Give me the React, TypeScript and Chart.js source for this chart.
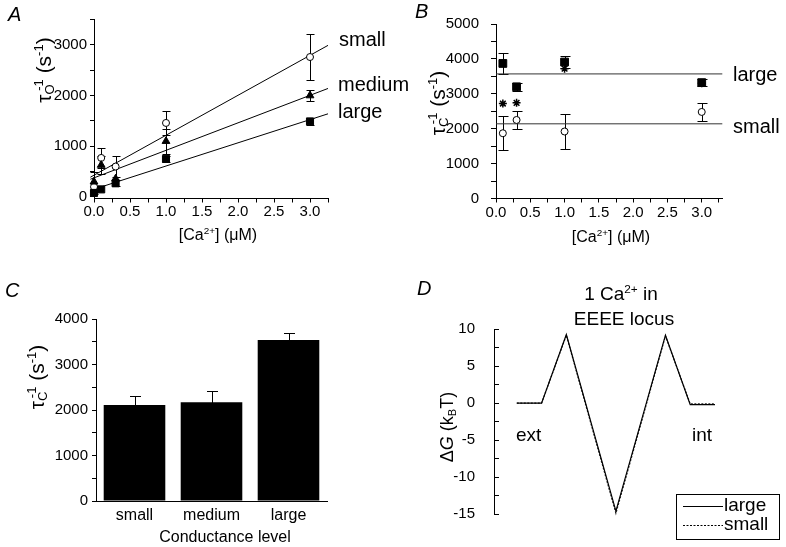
import React, { useEffect, useRef } from 'react';
import { Chart, registerables } from 'chart.js';
Chart.register(...registerables);

const FONT = '"Liberation Sans", Arial, Helvetica, sans-serif';

// ---------- Panel A data ----------
const caA = [0, 0.1, 0.3, 1.0, 3.0];
const smallA = [200, 770, 600, 1460, 2760];
const smallAErr = [0, 190, 200, 230, 460];
const mediumA = [300, 630, 360, 1100, 2000];
const mediumAErr = [200, 170, 0, 250, 100];
const largeA = [80, 150, 270, 750, 1490];
const largeAErr = [30, 0, 60, 60, 70];
const fitXA = [-0.05, 3.25];
const fitSmallA = [390, 2990];
const fitMediumA = [350, 2140];
const fitLargeA = [130, 1640];

// ---------- Panel B data ----------
const caB = [0.1, 0.3, 1.0, 3.0];
const largeB = [3870, 3200, 3910, 3320];
const largeBErr = [300, 110, 170, 110];
const mediumB = [2720, 2740, 3720, 3300];
const smallB = [1870, 2250, 1920, 2480];
const smallBErr = [490, 260, 500, 260];
const fitXB = [0, 3.3];
const fitLargeB = [3570, 3570];
const fitSmallB = [2140, 2140];

// ---------- Panel C data ----------
const levelsC = ['small', 'medium', 'large'];
const tauC = [2110, 2170, 3540];
const tauCErr = [200, 245, 150];

// ---------- Panel D data ----------
const posD = [0, 1, 2, 4, 6, 7, 8];
const largeD = [0, 0, 9.3, -14.6, 9.2, -0.2, -0.2];
const smallD = [0, 0, 9.2, -14.9, 9.1, -0.1, -0.1];

const tickFont = { family: FONT, size: 15 };

function steps(min: number, max: number, step: number) {
  const out: number[] = [];
  const n = Math.round((max - min) / step);
  for (let i = 0; i <= n; i++) out.push(+(min + i * step).toFixed(6));
  return out;
}
const isMult = (v: number, m: number) => Math.abs(v / m - Math.round(v / m)) < 1e-6;

function errorBars(specs: { ds: number; err: number[]; cap: number }[]) {
  return {
    id: 'errorBars',
    beforeDatasetsDraw(chart: any) {
      const ctx = chart.ctx;
      const ys = chart.scales.y;
      ctx.save();
      ctx.strokeStyle = '#000';
      ctx.lineWidth = 1;
      for (const s of specs) {
        const meta = chart.getDatasetMeta(s.ds);
        const data = chart.data.datasets[s.ds].data;
        meta.data.forEach((el: any, i: number) => {
          const e = s.err[i];
          if (!e) return;
          const raw = data[i];
          const v = typeof raw === 'number' ? raw : raw.y;
          const x = Math.round(el.x) + 0.5;
          const y1 = Math.round(ys.getPixelForValue(v + e)) + 0.5;
          const y2 = Math.round(ys.getPixelForValue(v - e)) + 0.5;
          ctx.beginPath();
          ctx.moveTo(x, y1); ctx.lineTo(x, y2);
          ctx.moveTo(x - s.cap / 2, y1); ctx.lineTo(x + s.cap / 2, y1);
          ctx.moveTo(x - s.cap / 2, y2); ctx.lineTo(x + s.cap / 2, y2);
          ctx.stroke();
        });
      }
      ctx.restore();
    },
  };
}

const pts = (xs: number[], ys: number[]) => xs.map((x, i) => ({ x, y: ys[i] }));

const baseOpts = (padding: any) => ({
  animation: false,
  responsive: false,
  maintainAspectRatio: false,
  events: [] as any[],
  layout: { padding },
  plugins: { legend: { display: false }, tooltip: { enabled: false } },
});

function linearAxis(o: {
  min: number; max: number; step: number; major: number; fixed?: number;
  size: number; horizontal: boolean; tickLength: number; padding: number; display?: boolean;
}) {
  return {
    type: 'linear',
    display: o.display === undefined ? true : o.display,
    min: o.min,
    max: o.max,
    afterFit: (s: any) => { if (o.horizontal) s.height = o.size; else s.width = o.size; },
    afterBuildTicks: (s: any) => {
      const start = Math.ceil(o.min / o.step - 1e-9) * o.step;
      s.ticks = steps(start, o.max, o.step).map((v) => ({ value: v }));
    },
    ticks: {
      font: tickFont,
      color: '#000',
      padding: o.padding,
      autoSkip: false,
      maxRotation: 0,
      callback: (v: number) => (isMult(v, o.major) ? (o.fixed !== undefined ? v.toFixed(o.fixed) : String(v)) : ''),
    },
    grid: { drawOnChartArea: false, tickLength: o.tickLength, color: '#000', lineWidth: 1 },
    border: { color: '#000', width: 1 },
  };
}

function configA() {
  return {
    type: 'scatter',
    data: {
      datasets: [
        { data: pts(caA, largeA), pointStyle: 'rect', pointRadius: 5, backgroundColor: '#000', borderColor: '#000', borderWidth: 1, clip: false },
        { data: pts(caA, mediumA), pointStyle: 'triangle', pointRadius: 4.5, backgroundColor: '#000', borderColor: '#000', borderWidth: 1, clip: false },
        { data: pts(caA, smallA), pointStyle: 'circle', pointRadius: 3.5, backgroundColor: '#fff', borderColor: '#000', borderWidth: 1, clip: false },
        { data: pts(fitXA, fitSmallA), showLine: true, pointRadius: 0, borderColor: '#000', borderWidth: 1, clip: false },
        { data: pts(fitXA, fitMediumA), showLine: true, pointRadius: 0, borderColor: '#000', borderWidth: 1, clip: false },
        { data: pts(fitXA, fitLargeA), showLine: true, pointRadius: 0, borderColor: '#000', borderWidth: 1, clip: false },
      ],
    },
    options: {
      ...baseOpts({ left: 0, top: 19.5, right: 62, bottom: 0 }),
      scales: {
        x: linearAxis({ min: 0, max: 3.25, step: 0.25, major: 0.5, fixed: 1, size: 71.5, horizontal: true, tickLength: 4, padding: 0 }),
        y: linearAxis({ min: -30, max: 3500, step: 500, major: 1000, size: 94, horizontal: false, tickLength: 4, padding: 3 }),
      },
    },
    plugins: [errorBars([
      { ds: 2, err: smallAErr, cap: 8 },
      { ds: 1, err: mediumAErr, cap: 8 },
      { ds: 0, err: largeAErr, cap: 8 },
    ])],
  };
}

function configB() {
  return {
    type: 'scatter',
    data: {
      datasets: [
        { data: pts(caB, largeB), pointStyle: 'rect', pointRadius: 5.5, backgroundColor: '#000', borderColor: '#000', borderWidth: 1, clip: false },
        { data: pts(caB, mediumB), pointStyle: 'star', pointRadius: 4, backgroundColor: '#000', borderColor: '#000', borderWidth: 1.5, clip: false },
        { data: pts(caB, smallB), pointStyle: 'circle', pointRadius: 3.5, backgroundColor: '#fff', borderColor: '#000', borderWidth: 1, clip: false },
        { data: pts(fitXB, fitLargeB), showLine: true, pointRadius: 0, borderColor: '#333', borderWidth: 1, clip: false },
        { data: pts(fitXB, fitSmallB), showLine: true, pointRadius: 0, borderColor: '#333', borderWidth: 1, clip: false },
      ],
    },
    options: {
      ...baseOpts({ left: 0, top: 24, right: 63.7, bottom: 0 }),
      scales: {
        x: linearAxis({ min: 0, max: 3.3, step: 0.25, major: 0.5, fixed: 1, size: 71.5, horizontal: true, tickLength: 4, padding: 1 }),
        y: linearAxis({ min: 0, max: 5000, step: 500, major: 1000, size: 106, horizontal: false, tickLength: 5, padding: 12 }),
      },
    },
    plugins: [errorBars([
      { ds: 0, err: largeBErr, cap: 10 },
      { ds: 2, err: smallBErr, cap: 10 },
    ])],
  };
}

function configC() {
  return {
    type: 'bar',
    data: {
      labels: levelsC,
      datasets: [
        { data: tauC, backgroundColor: '#000', borderWidth: 0, barPercentage: 0.8, categoryPercentage: 1 },
      ],
    },
    options: {
      ...baseOpts({ left: 0, top: 49, right: 63, bottom: 0 }),
      scales: {
        x: {
          type: 'category',
          afterFit: (s: any) => { s.height = 46; },
          ticks: { font: { family: FONT, size: 16 }, color: '#000', padding: -3, maxRotation: 0 },
          grid: { display: false },
          border: { display: true, color: '#000', width: 1 },
        },
        y: linearAxis({ min: 0, max: 4000, step: 500, major: 1000, size: 96, horizontal: false, tickLength: 4, padding: 4 }),
      },
    },
    plugins: [errorBars([{ ds: 0, err: tauCErr, cap: 11 }])],
  };
}

function legendD() {
  return {
    id: 'legendD',
    afterDraw(chart: any) {
      const ctx = chart.ctx;
      ctx.save();
      ctx.strokeStyle = '#000';
      ctx.lineWidth = 1;
      ctx.strokeRect(286.5, 224.5, 103, 45);
      ctx.beginPath();
      ctx.moveTo(293, 236.5); ctx.lineTo(333, 236.5);
      ctx.stroke();
      ctx.setLineDash([2, 1.5]);
      ctx.beginPath();
      ctx.moveTo(293, 255.5); ctx.lineTo(333, 255.5);
      ctx.stroke();
      ctx.setLineDash([]);
      ctx.fillStyle = '#000';
      ctx.font = `19px ${FONT}`;
      ctx.textBaseline = 'alphabetic';
      ctx.fillText('large', 334, 241);
      ctx.fillText('small', 334, 259.5);
      ctx.restore();
    },
  };
}

function configD() {
  return {
    type: 'scatter',
    data: {
      datasets: [
        { data: pts(posD, largeD), showLine: true, pointRadius: 0, borderColor: '#000', borderWidth: 1.2, clip: false },
        { data: pts(posD, smallD), showLine: true, pointRadius: 0, borderColor: '#222', borderWidth: 1.2, borderDash: [2, 1.5], clip: false },
      ],
    },
    options: {
      ...baseOpts({ left: 0, top: 59.3, right: 71, bottom: 25.3 }),
      scales: {
        x: { type: 'linear', display: false, min: -0.92, max: 8 },
        y: linearAxis({ min: -15, max: 10, step: 2.5, major: 5, size: 104, horizontal: false, tickLength: -5, padding: 24 }),
      },
    },
    plugins: [legendD()],
  };
}

function ChartBox({ left, top, width, height, make }: { left: number; top: number; width: number; height: number; make: () => any }) {
  const ref = useRef<HTMLCanvasElement>(null);
  useEffect(() => {
    const chart = new Chart(ref.current as HTMLCanvasElement, make());
    return () => chart.destroy();
  }, []);
  return (
    <div style={{ position: 'absolute', left, top, width, height }}>
      <canvas ref={ref} width={width} height={height} style={{ display: 'block' }} />
    </div>
  );
}

function T({ x, y, size = 16, center = false, italic = false, children }: any) {
  return (
    <div
      style={{
        position: 'absolute', left: x, top: y - 0.905 * size - 0.02 * size, fontSize: size, fontFamily: FONT,
        fontStyle: italic ? 'italic' : 'normal', whiteSpace: 'nowrap', lineHeight: 'normal', color: '#000',
        transform: center ? 'translateX(-50%)' : undefined,
      }}
    >
      {children}
    </div>
  );
}

function VT({ cx, cy, size = 18, children }: any) {
  return (
    <div
      style={{
        position: 'absolute', left: cx, top: cy, fontSize: size, fontFamily: FONT, whiteSpace: 'nowrap',
        lineHeight: 1, color: '#000', transform: 'translate(-50%,-50%) rotate(-90deg)',
      }}
    >
      {children}
    </div>
  );
}

const Sup = ({ children, ml }: any) => (
  <sup style={{ fontSize: '0.62em', lineHeight: 0, verticalAlign: '0.6em', marginLeft: ml }}>{children}</sup>
);
const Sub = ({ children }: any) => (
  <sub style={{ fontSize: '0.62em', lineHeight: 0, verticalAlign: '-0.3em' }}>{children}</sub>
);

export default function App() {
  return (
    <div style={{ position: 'absolute', left: 0, top: 0, width: 786, height: 547, background: '#fff', overflow: 'hidden' }}>
      <ChartBox left={0} top={0} width={390} height={270} make={configA} />
      <ChartBox left={390} top={0} width={396} height={270} make={configB} />
      <ChartBox left={0} top={270} width={390} height={277} make={configC} />
      <ChartBox left={390} top={270} width={396} height={277} make={configD} />

      <T x={8} y={21} size={20} italic>A</T>
      <T x={415} y={19} size={20} italic>B</T>
      <T x={5} y={297} size={20} italic>C</T>
      <T x={417} y={295} size={20} italic>D</T>

      <T x={339} y={46} size={20}>small</T>
      <T x={338} y={91} size={20}>medium</T>
      <T x={338} y={118} size={20}>large</T>
      <T x={733} y={81} size={20}>large</T>
      <T x={733} y={133} size={20}>small</T>

      <T x={218} y={241} size={16} center>[Ca<Sup>2+</Sup>] (μM)</T>
      <T x={611} y={243} size={16} center>[Ca<Sup>2+</Sup>] (μM)</T>
      <T x={225} y={543} size={16} center>Conductance level</T>

      <VT cx={43} cy={70} size={21}>τ<Sub>O</Sub><Sup ml="-0.5em">-1</Sup> (s<Sup>-1</Sup>)</VT>
      <VT cx={437} cy={103} size={21}>τ<Sub>C</Sub><Sup ml="-0.5em">-1</Sup> (s<Sup>-1</Sup>)</VT>
      <VT cx={36} cy={377} size={21}>τ<Sub>C</Sub><Sup ml="-0.5em">-1</Sup> (s<Sup>-1</Sup>)</VT>
      <VT cx={447} cy={427} size={18}>Δ<i>G</i> (k<Sub>B</Sub>T)</VT>

      <T x={621} y={301} size={19} center>1 Ca<Sup>2+</Sup> in</T>
      <T x={624} y={326} size={19} center>EEEE locus</T>
      <T x={516} y={442} size={19}>ext</T>
      <T x={692} y={442} size={19}>int</T>
    </div>
  );
}
